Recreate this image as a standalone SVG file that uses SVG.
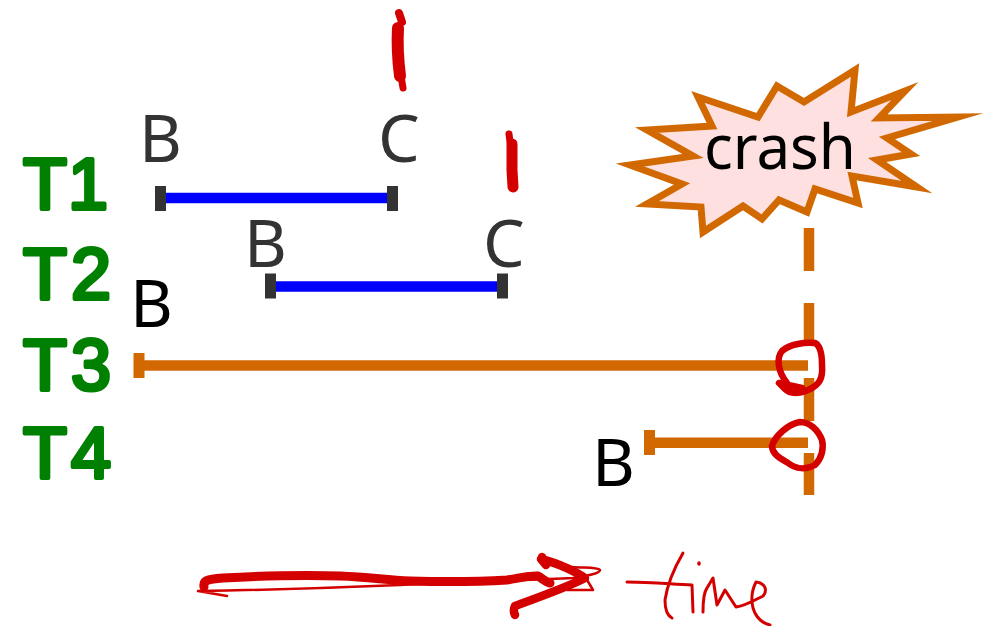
<svg xmlns="http://www.w3.org/2000/svg" width="984" height="626" viewBox="0 0 984 626">
<style>
.t{font-family:"Liberation Sans",Arial,sans-serif;font-size:72px;fill:#008000;stroke:#008000;stroke-width:4px;stroke-linejoin:round;stroke-linecap:round}
.l{font-family:"Noto Sans",sans-serif;font-size:66px}
.d{fill:#333333}
.k{fill:#000000}
.blue{stroke:#0000ff;stroke-width:10.5;fill:none}
.or{stroke:#d26900;stroke-width:10.5;fill:none}
.tick{fill:#333333}
.otick{fill:#d26900}
.ink{fill:none;stroke:#d40000;stroke-linecap:round;stroke-linejoin:round}
</style>
<rect width="984" height="626" fill="#ffffff"/>
<g id="labels">
<text class="t" x="23" y="209">T<tspan dx="1">1</tspan></text>
<text class="t" x="23" y="299">T<tspan dx="4">2</tspan></text>
<text class="t" x="23" y="390">T<tspan dx="4">3</tspan></text>
<text class="t" x="23" y="478">T<tspan dx="4">4</tspan></text>
</g>
<g id="connectors">
<line id="t1-line" class="blue" x1="160" y1="198" x2="392" y2="198"/>
<line id="t2-line" class="blue" x1="270" y1="286.500" x2="502" y2="286.500"/>
<line id="t3-line" class="or" x1="138" y1="365.500" x2="808" y2="365.500"/>
<line id="t4-line" class="or" x1="649" y1="442.700" x2="808" y2="442.700"/>
<line id="crash-line" class="or" x1="809" y1="228" x2="809" y2="495" stroke-dasharray="43 32"/>
</g>
<g id="t1">
<rect class="tick" x="155" y="186" width="11" height="25"/>
<rect class="tick" x="387" y="186" width="11" height="25"/>
<text class="l d" x="139" y="162">B</text>
<text class="l d" x="378" y="162">C</text>
</g>
<g id="t2">
<rect class="tick" x="265" y="273.500" width="11" height="25"/>
<rect class="tick" x="497" y="273.500" width="11" height="25"/>
<text class="l d" x="244" y="267">B</text>
<text class="l d" x="483" y="267">C</text>
</g>
<g id="t3">
<rect class="otick" x="133.500" y="353" width="11" height="25"/>
<text class="l k" x="130" y="327">B</text>
</g>
<g id="t4">
<rect class="otick" x="644" y="430" width="11" height="25"/>
<text class="l k" x="592" y="486">B</text>
</g>
<g id="crash">
<polygon points="698,97 758,117 777,86 804,102 855,70 851,112 905,91 879,118 958,117 887,138 911,154 877,160 917,187 852,176 858,203 815,189 807,212 779,200 762,219 743,206 703,232 701,207 647,204 682,184 630,165 693,156 647,130 712,126" fill="#ffe0e0" stroke="#d26900" stroke-width="7" stroke-miterlimit="10"/>
<text x="780" y="169" text-anchor="middle" font-family="Noto Sans, sans-serif" font-size="62" fill="#000000" textLength="152" lengthAdjust="spacingAndGlyphs">crash</text>
</g>
<g id="annotations">
<path class="ink" stroke-width="8" d="M399 13 L402 22"/>
<path class="ink" stroke-width="12" d="M398 28 C397 45 398 60 400 76"/>
<path class="ink" stroke-width="7" d="M401 76 L403 88"/>
<path class="ink" stroke-width="7" d="M509 134 L510 142"/>
<path class="ink" stroke-width="11" d="M512 144 L512 170 L513 187"/>
<path class="ink" stroke-width="6.500" d="M787 383 C778 372 776 358 782 351 C790 344 805 342 815 343 C821 346 822 355 822 365 C823 378 820 385 808 390 C798 394 790 394 785 389 L779 383 L802 388"/>
<path class="ink" stroke-width="6.500" d="M800 422 C788 424 775 436 772 446 C772 454 780 458 788 463 C796 469 806 470 815 465 C822 458 824 448 822 440 C818 430 810 422 800 422Z"/>
<path class="ink" stroke-width="9" d="M204 587 C203 581 206 579 223 578 C260 576 310 575 340 576 C370 577 385 580 410 581 C450 582 490 581 507 580 C520 578 532 575 538 576 C542 578 545 582 550 583"/>
<path class="ink" stroke-width="2.500" d="M227 596 L198 591 C260 590 330 588 400 585 C460 582 530 580 573 578 C585 576 600 574 600 570 C598 567 585 568 572 567 M583 573 L593 590 L567 590"/>
<path class="ink" stroke-width="8.500" d="M542 557 L546 565 L541 559 C550 561 570 568 585 578 C570 586 545 595 515 606 C513 610 514 613 515 615"/>
<path class="ink" stroke-width="3" d="M627 582 C650 582 670 584 692 585 L693 612"/>
<path class="ink" stroke-width="3" d="M683 553 C676 565 668 580 665 600 C665 610 668 616 672 618"/>
<path class="ink" stroke-width="3.500" d="M699 563 L699 564"/>
<path class="ink" stroke-width="3" d="M703 612 C703 600 704 592 707 588 L713 578 L717 605 L725 590 L736 607 C745 606 755 600 763 596 C768 590 765 583 756 582 C752 590 751 600 753 608 C756 618 762 623 770 625"/>
</g>
</svg>
